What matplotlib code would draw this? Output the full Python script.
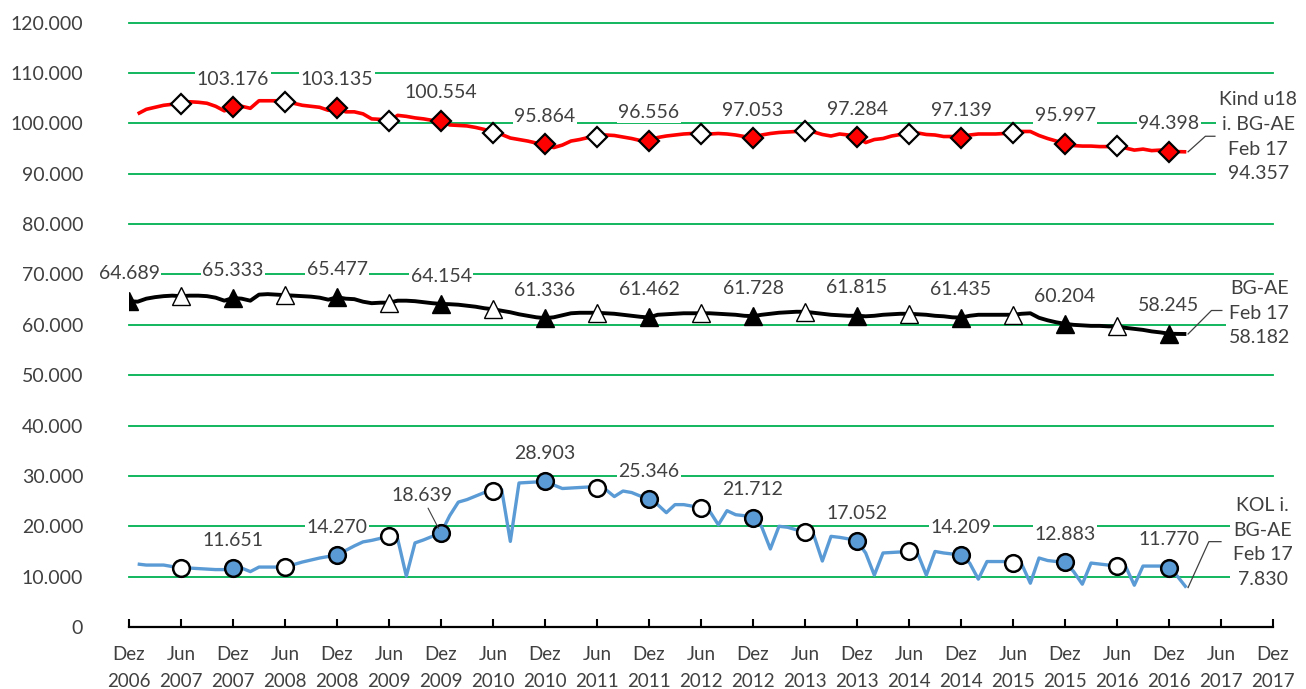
import matplotlib
matplotlib.use("Agg")
import matplotlib.pyplot as plt
import numpy as np
from matplotlib.ticker import FuncFormatter, FixedLocator

plt.rcParams['font.family'] = ['Lato', 'DejaVu Sans']

# ---------------- data (values in thousands, monthly) ----------------
# month index 0 = Dez 2006 ... 122 = Feb 2017
x_tick_labels = ["Dez\n2006", "Jun\n2007", "Dez\n2007", "Jun\n2008", "Dez\n2008",
                 "Jun\n2009", "Dez\n2009", "Jun\n2010", "Dez\n2010", "Jun\n2011",
                 "Dez\n2011", "Jun\n2012", "Dez\n2012", "Jun\n2013", "Dez\n2013",
                 "Jun\n2014", "Dez\n2014", "Jun\n2015", "Dez\n2015", "Jun\n2016",
                 "Dez\n2016", "Jun\n2017", "Dez\n2017"]
y_ticks = [0, 10, 20, 30, 40, 50, 60, 70, 80, 90, 100, 110, 120]

# Kind u18 i. BG-AE (Jan 2007 .. Feb 2017)
kind_u18 = [101.9, 102.8, 103.2, 103.6, 103.8, 103.8,
            104.3, 104.2, 104.0, 103.4, 102.5, 103.176,
            103.4, 103.0, 104.5, 104.5, 104.5, 104.2,
            104.0, 103.6, 103.4, 103.2, 102.6, 103.135,
            102.3, 102.3, 101.9, 100.9, 100.8, 100.4,
            101.6, 101.4, 101.1, 100.9, 100.6, 100.554,
            99.7, 99.6, 99.5, 99.2, 98.8, 98.1,
            97.8, 97.1, 96.8, 96.5, 96.1, 95.864,
            95.2, 95.7, 96.5, 96.8, 97.2, 97.4,
            97.7, 97.6, 97.3, 97.0, 96.6, 96.556,
            97.2, 97.5, 97.7, 97.9, 98.0, 97.9,
            97.9, 98.0, 97.9, 97.7, 97.4, 97.053,
            97.7, 98.0, 98.2, 98.3, 98.4, 98.5,
            98.3, 97.8, 97.5, 97.9, 97.7, 97.284,
            96.2, 96.8, 97.0, 97.5, 97.8, 97.8,
            98.1, 97.8, 97.7, 97.4, 97.4, 97.139,
            97.7, 97.9, 97.9, 97.9, 98.0, 98.1,
            98.4, 98.4, 97.6, 97.0, 96.5, 95.997,
            95.6, 95.5, 95.5, 95.4, 95.4, 95.5,
            95.1, 94.7, 94.9, 94.6, 94.7, 94.398,
            94.4, 94.357]

# BG-AE (Dez 2006 .. Feb 2017)
bg_ae = [64.689,
         64.6, 65.2, 65.5, 65.7, 65.8, 65.7,
         65.8, 65.8, 65.7, 65.4, 64.8, 65.333,
         65.2, 64.8, 66.0, 66.1, 66.0, 65.9,
         65.8, 65.7, 65.6, 65.4, 65.0, 65.477,
         65.2, 65.1, 64.6, 64.3, 64.4, 64.4,
         64.8, 64.8, 64.7, 64.5, 64.3, 64.154,
         64.1, 64.0, 63.8, 63.6, 63.3, 63.1,
         62.8, 62.5, 62.1, 61.8, 61.5, 61.336,
         61.5, 61.9, 62.3, 62.4, 62.4, 62.4,
         62.3, 62.2, 62.0, 61.8, 61.6, 61.462,
         62.0, 62.1, 62.2, 62.3, 62.3, 62.3,
         62.3, 62.2, 62.1, 62.0, 61.8, 61.728,
         62.0, 62.2, 62.4, 62.5, 62.6, 62.6,
         62.4, 62.2, 62.0, 61.9, 61.8, 61.815,
         61.7, 61.8, 62.0, 62.1, 62.2, 62.2,
         62.1, 62.0, 61.8, 61.7, 61.5, 61.435,
         61.8, 62.0, 62.0, 62.0, 62.0, 62.0,
         62.2, 62.3, 61.4, 60.9, 60.5, 60.204,
         60.0, 59.9, 59.8, 59.8, 59.7, 59.7,
         59.4, 59.2, 59.0, 58.7, 58.5, 58.245,
         58.2, 58.182]

# KOL i. BG-AE (Jan 2007 .. Feb 2017)
kol = [12.5, 12.3, 12.3, 12.3, 12.0, 11.8,
       11.7, 11.6, 11.5, 11.4, 11.4, 11.651,
       11.7, 11.0, 11.9, 11.9, 11.9, 11.9,
       12.4, 12.9, 13.3, 13.7, 14.0, 14.270,
       15.2, 16.1, 16.9, 17.2, 17.6, 18.1,
       17.5, 10.1, 16.7, 17.3, 18.0, 18.639,
       22.1, 24.8, 25.3, 26.0, 26.7, 27.1,
       27.3, 17.0, 28.6, 28.7, 28.8, 28.903,
       28.2, 27.5, 27.6, 27.7, 27.8, 27.6,
       27.3, 25.9, 27.0, 26.7, 26.0, 25.346,
       24.3, 22.7, 24.3, 24.3, 24.0, 23.7,
       23.0, 20.3, 23.1, 22.3, 22.1, 21.712,
       19.9, 15.5, 20.0, 19.8, 19.3, 18.9,
       18.3, 13.1, 18.0, 17.8, 17.5, 17.052,
       14.7, 10.3, 14.7, 14.8, 14.9, 15.0,
       14.6, 10.3, 15.0, 14.7, 14.5, 14.209,
       12.7, 9.5, 13.0, 13.0, 13.0, 12.8,
       12.5, 8.7, 13.7, 13.2, 13.0, 12.883,
       11.0, 8.5, 12.7, 12.5, 12.3, 12.2,
       12.0, 8.3, 12.1, 12.1, 12.1, 11.770,
       10.0, 7.830]

end_names = ["Kind u18\ni. BG-AE", "BG-AE", "KOL i.\nBG-AE"]
end_month = "Feb 17"

# ---------------- figure ----------------
fig = plt.figure(figsize=(13.06, 6.89), dpi=100)
ax = fig.add_axes([129/1306, 62/689, 1144/1306, 604.3/689])

red_x = np.arange(1, 1 + len(kind_u18))
blk_x = np.arange(0, len(bg_ae))
blu_x = np.arange(1, 1 + len(kol))

GREEN = '#00B050'
TXT = '#404040'
BLUE = '#5B9BD5'

for yv in y_ticks[1:]:
    ax.axhline(yv, color=GREEN, lw=1.3, zorder=0, clip_on=False)

ax.plot(red_x, kind_u18, color='#FF0000', lw=2.6, zorder=3, solid_capstyle='butt')
ax.plot(blk_x, bg_ae, color='black', lw=2.8, zorder=3, solid_capstyle='butt')
ax.plot(blu_x, kol, color=BLUE, lw=2.4, zorder=3, solid_capstyle='butt')

dec_m = np.arange(12, 121, 12)
jun_m = np.arange(6, 115, 12)

def val(series, xs, m):
    return series[int(m - xs[0])]

# markers
ax.plot(jun_m, [val(kind_u18, red_x, m) for m in jun_m], ls='none', marker='D', ms=10,
        mfc='white', mec='black', mew=1.6, zorder=4)
ax.plot(dec_m, [val(kind_u18, red_x, m) for m in dec_m], ls='none', marker='D', ms=10,
        mfc='#FF0000', mec='black', mew=1.6, zorder=4)

blk_dec = np.concatenate([[0], dec_m])
ax.plot(jun_m, [val(bg_ae, blk_x, m) for m in jun_m], ls='none', marker='^', ms=12.5,
        mfc='white', mec='black', mew=1.0, zorder=4)
ax.plot(blk_dec, [val(bg_ae, blk_x, m) for m in blk_dec], ls='none', marker='^', ms=12.5,
        mfc='black', mec='black', mew=1.0, zorder=4)

ax.plot(jun_m, [val(kol, blu_x, m) for m in jun_m], ls='none', marker='o', ms=12,
        mfc='white', mec='black', mew=1.8, zorder=4)
ax.plot(dec_m, [val(kol, blu_x, m) for m in dec_m], ls='none', marker='o', ms=12,
        mfc=BLUE, mec='black', mew=1.8, zorder=4)

# data labels
lab_kw = dict(textcoords='offset points', ha='center', va='center', fontsize=14,
              color=TXT, zorder=5,
              bbox=dict(boxstyle='square,pad=0.08', fc='white', ec='none'))
for m in dec_m:
    v = val(kind_u18, red_x, m)
    ax.annotate(f"{v:.3f}", (m, v), xytext=(0, 20), **lab_kw)
for m in blk_dec:
    v = val(bg_ae, blk_x, m)
    ax.annotate(f"{v:.3f}", (m, v), xytext=(0, 20), **lab_kw)
for m in dec_m:
    v = val(kol, blu_x, m)
    if m == 36:
        ax.annotate(f"{v:.3f}", (m, v), xytext=(-14, 27),
                    arrowprops=dict(arrowstyle='-', color='#404040', lw=0.8,
                                    shrinkA=2, shrinkB=4), **lab_kw)
    else:
        ax.annotate(f"{v:.3f}", (m, v), xytext=(0, 20), **lab_kw)

# end labels with leader lines
end_series = [(kind_u18, red_x, 130.3, 97.35, (124.2, 97.45, 125.3)),
              (bg_ae, blk_x, 130.4, 62.3, (124.9, 62.85, 126.1)),
              (kol, blu_x, 130.8, 16.8, (124.6, 16.95, 126.0))]
for name, (s, xs, tx, ty, (lx, ly, lx2)) in zip(end_names, end_series):
    xe, ve = xs[-1], s[-1]
    ax.plot([xe + 0.2, lx, lx2], [ve, ly, ly], color='#404040', lw=0.9, zorder=6,
            clip_on=False)
    ax.text(tx, ty, f"{name}\n{end_month}\n{ve:.3f}", ha='center', va='center',
            fontsize=14, color=TXT, linespacing=1.55, zorder=7, clip_on=False,
            bbox=dict(boxstyle='square,pad=0.15', fc='white', ec='none'))

# axes
ax.set_xlim(0, 132)
ax.set_ylim(0, 120)
ax.xaxis.set_major_locator(FixedLocator(np.arange(0, 133, 6)))
ax.set_xticklabels(x_tick_labels)
ax.set_yticks(y_ticks)
ax.yaxis.set_major_formatter(FuncFormatter(lambda v, p: "0" if v == 0 else f"{v:.3f}"))
for sp in ['left', 'right', 'top']:
    ax.spines[sp].set_visible(False)
ax.spines['bottom'].set_linewidth(1.6)
ax.spines['bottom'].set_zorder(6)
ax.tick_params(axis='y', length=0, pad=33, labelsize=14, labelcolor=TXT)
ax.tick_params(axis='x', direction='in', length=6, width=1.5, pad=14,
               labelsize=13.5, labelcolor=TXT)
for t in ax.get_xticklabels():
    t.set_linespacing(1.65)

fig.savefig("out.png", dpi=100)
